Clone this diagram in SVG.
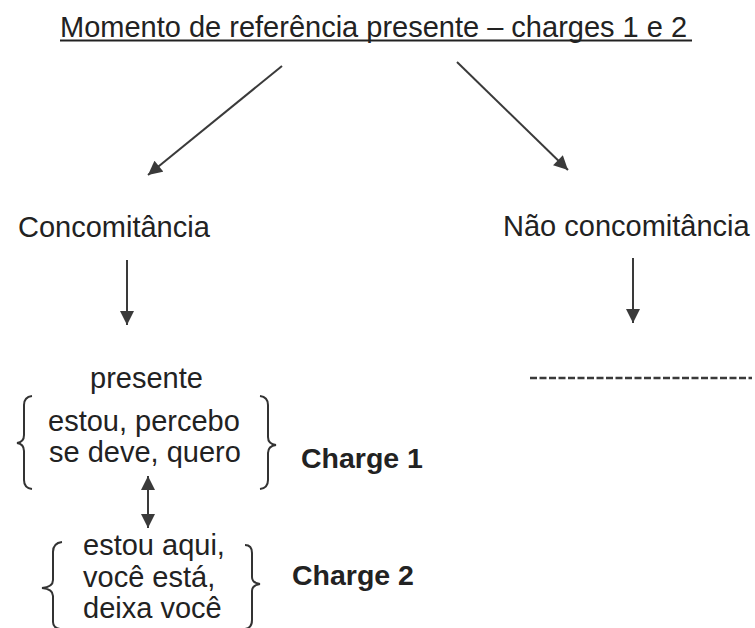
<svg xmlns="http://www.w3.org/2000/svg" width="755" height="628" viewBox="0 0 755 628">
<style>
  .t { font-family: "Liberation Sans", Arial, sans-serif; font-size: 29px; fill: #222222; }
  .b { font-family: "Liberation Sans", Arial, sans-serif; font-size: 28.5px; font-weight: bold; fill: #222222; }
  .arr { stroke: #3a3a3a; stroke-width: 2; fill: none; }
  .br { stroke: #333333; stroke-width: 2; fill: none; }
</style>
<defs>
  <marker id="ah" viewBox="0 0 10 10" refX="10" refY="5" markerUnits="userSpaceOnUse" markerWidth="15" markerHeight="14" orient="auto-start-reverse">
    <path d="M0,0 L10,5 L0,10 z" fill="#3a3a3a"/>
  </marker>
</defs>
<rect width="755" height="628" fill="#ffffff"/>
<g id="title">
  <text class="t" x="60" y="37">Momento de referência presente – charges 1 e 2</text>
  <line x1="60" y1="40.5" x2="692" y2="40.5" stroke="#222222" stroke-width="2"/>
</g>
<g id="concomitancia">
  <text class="t" x="18" y="237">Concomitância</text>
</g>
<g id="nao-concomitancia">
  <text class="t" x="503" y="236">Não concomitância</text>
</g>
<g id="presente">
  <text class="t" x="90" y="388">presente</text>
  <text class="t" x="48" y="431">estou, percebo</text>
  <text class="t" x="49" y="462">se deve, quero</text>
  <path class="br" d="M32,396 Q24,397 24,405 L24,435 Q24,442 17,443 Q24,444 24,451 L24,480 Q24,488 32,489"/>
  <path class="br" d="M260,396 Q268,397 268,405 L268,437 Q268,444 276,445 Q268,446 268,453 L268,480 Q268,488 260,489"/>
</g>
<g id="charge1">
  <text class="b" x="301" y="468">Charge 1</text>
</g>
<g id="grupo2">
  <text class="t" x="83" y="555">estou aqui,</text>
  <text class="t" x="83" y="587">você está,</text>
  <text class="t" x="83" y="618">deixa você</text>
  <path class="br" d="M62,542 Q53,543 53,552 L53,580 Q53,587 42,588 Q53,589 53,596 L53,622 Q53,628 60,629"/>
  <path class="br" d="M245,545 Q252,545 252,553 L252,577 Q252,583 260,584 Q252,585 252,591 L252,620 Q252,628 245,629"/>
</g>
<g id="charge2">
  <text class="b" x="292" y="585">Charge 2</text>
</g>
<g id="vazio">
  <line x1="530" y1="378" x2="752" y2="378" stroke="#3a3a3a" stroke-width="2.5" stroke-dasharray="7,2.5"/>
</g>
<g id="connectors">
  <line class="arr" x1="282" y1="66" x2="148" y2="175" marker-end="url(#ah)"/>
  <line class="arr" x1="457" y1="62" x2="568" y2="170" marker-end="url(#ah)"/>
  <line class="arr" x1="127" y1="260" x2="127" y2="325" marker-end="url(#ah)"/>
  <line class="arr" x1="633" y1="258" x2="633" y2="323" marker-end="url(#ah)"/>
  <line class="arr" x1="148" y1="476" x2="148" y2="528" marker-start="url(#ah)" marker-end="url(#ah)"/>
</g>
</svg>
